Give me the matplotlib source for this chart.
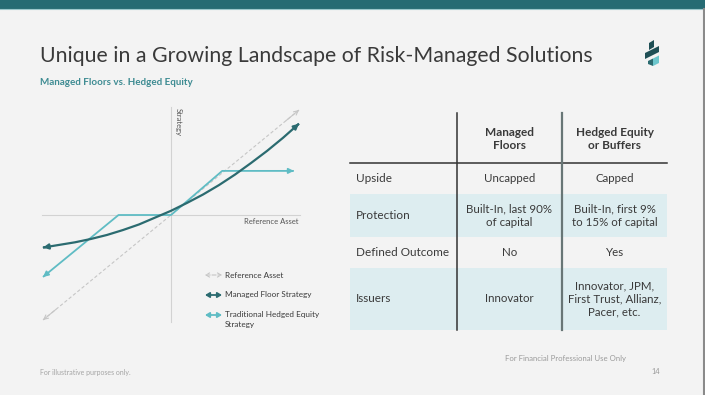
import matplotlib.pyplot as plt
from matplotlib.patches import Rectangle, Polygon

plt.rcParams['font.family'] = ['Lato', 'DejaVu Sans']

# chart data (x = reference asset return, y = strategy return)
ref_x = [-1.0, 1.0]
ref_y = [-1.0, 1.0]
floor_x = [-1.0, -0.875, -0.75, -0.625, -0.5, -0.375, -0.25, -0.125, 0.0,
           0.125, 0.25, 0.375, 0.5, 0.625, 0.75, 0.875, 1.0]
floor_y = [-0.31, -0.285, -0.26, -0.228, -0.19, -0.143, -0.09, -0.025, 0.04,
           0.115, 0.195, 0.285, 0.385, 0.495, 0.61, 0.735, 0.87]
hedged_x = [-1.0, -0.41, 0.0, 0.40, 0.96]
hedged_y = [-0.59, 0.0, 0.0, 0.42, 0.42]

# table data
col_heads = ['Managed\nFloors', 'Hedged Equity\nor Buffers']
row_labels = ['Upside', 'Protection', 'Defined Outcome', 'Issuers']
managed_col = ['Uncapped', 'Built-In, last 90%\nof capital', 'No', 'Innovator']
hedged_col = ['Capped', 'Built-In, first 9%\nto 15% of capital', 'Yes',
              'Innovator, JPM,\nFirst Trust, Allianz,\nPacer, etc.']

BG = '#f3f3f3'
DARK = '#2b6b70'
CYAN = '#5fbcc4'
REF = '#c6c6c6'
TXT = '#3a3a3a'

W, H = 705, 395
fig = plt.figure(figsize=(W / 100, H / 100), dpi=100, facecolor=BG)

# slide layer in pixel coordinates
bg = fig.add_axes([0, 0, 1, 1])
bg.set_xlim(0, W)
bg.set_ylim(H, 0)
bg.axis('off')

bg.add_patch(Rectangle((0, 0), W, 9, color='#266b73', lw=0))
bg.plot([0, W], [9.3, 9.3], color='#9cc7cb', lw=0.8)
bg.plot([703.5, 703.5], [9, H], color='#8a8a8a', lw=1.5)

bg.text(40, 62, 'Unique in a Growing Landscape of Risk-Managed Solutions',
        fontsize=15.3, color=TXT, va='baseline')
bg.text(40, 85, 'Managed Floors vs. Hedged Equity', fontsize=7.1,
        color='#3f8c93', fontweight='bold', va='baseline')

# logo
bg.add_patch(Polygon([(649, 43), (654, 40), (654, 47), (649, 50)], color='#1f4f55', lw=0))
bg.add_patch(Polygon([(645, 53), (659, 46), (659, 52), (645, 59)], color='#1f4f55', lw=0))
bg.add_patch(Polygon([(648, 61), (653, 58.5), (653, 66), (648, 64)], color='#2b6b70', lw=0))
bg.add_patch(Polygon([(653, 58.5), (659, 55.5), (659, 63), (653, 66)], color='#6cc6cc', lw=0))

# table
tx0, tx1 = 350, 667
cx = [457, 562]
row_edges = [163, 194, 237, 268, 330]
for i in (1, 3):
    bg.add_patch(Rectangle((tx0, row_edges[i]), tx1 - tx0,
                           row_edges[i + 1] - row_edges[i], color='#ddedf0', lw=0))
bg.plot([tx0, tx1], [163, 163], color='#333333', lw=1.1)
bg.plot([cx[0], cx[0]], [113, 330], color='#333333', lw=1.1)
bg.plot([cx[1], cx[1]], [113, 330], color='#687676', lw=1.6)

centers = [(cx[0] + cx[1]) / 2, (cx[1] + tx1) / 2]
for c, head in zip(centers, col_heads):
    bg.text(c, 139, head, ha='center', va='center', fontsize=8.5,
            fontweight='bold', color=TXT, linespacing=1.2)
for i, lab in enumerate(row_labels):
    ym = (row_edges[i] + row_edges[i + 1]) / 2
    bg.text(356, ym, lab, ha='left', va='center', fontsize=8.5, color=TXT)
    bg.text(centers[0], ym, managed_col[i], ha='center', va='center',
            fontsize=8.3, color=TXT, linespacing=1.25)
    bg.text(centers[1], ym, hedged_col[i], ha='center', va='center',
            fontsize=8.3, color=TXT, linespacing=1.25)

# legend
leg = [(275, REF, '--', 'Reference Asset'),
       (295, DARK, '-', 'Managed Floor Strategy'),
       (315, CYAN, '-', 'Traditional Hedged Equity\nStrategy')]
for y, col, ls, lab in leg:
    style = '<->' if ls == '--' else '<|-|>'
    bg.annotate('', xy=(222, y), xytext=(205, y),
                arrowprops=dict(arrowstyle=style + ',head_length=0.25,head_width=0.15',
                                color=col, lw=1.3 if ls == '-' else 0.8,
                                linestyle=ls, shrinkA=0, shrinkB=0))
    multi = '\n' in lab
    bg.text(225, 311 if multi else y, lab, fontsize=5.9, color=TXT,
            va='top' if multi else 'center', linespacing=1.5)

# footer
bg.text(505, 358, 'For Financial Professional Use Only', fontsize=5.6,
        color='#9a9a9a', va='center')
bg.text(651, 371, '14', fontsize=5.3, color='#9a9a9a', va='center')
bg.text(40, 373, 'For illustrative purposes only.', fontsize=5,
        color='#a5a5a5', va='center')

# chart
ax = fig.add_axes([43 / W, 1 - 320 / H, 256 / W, 210 / H])
ax.set_xlim(-1, 1)
ax.set_ylim(-1, 1)
ax.axis('off')
ax.patch.set_alpha(0)

ax.plot([-1.01, 1.01], [0, 0], color='#d2d2d2', lw=0.8, clip_on=False)
ax.plot([0, 0], [-1.02, 1.03], color='#d2d2d2', lw=0.8, clip_on=False)


def arrow_line(xs, ys, col, lw, ls='-', head='-|>'):
    ax.plot(xs, ys, color=col, lw=lw, ls=ls, clip_on=False,
            solid_capstyle='butt', solid_joinstyle='round')
    for (x0, y0), (x1, y1) in [((xs[1], ys[1]), (xs[0], ys[0])),
                               ((xs[-2], ys[-2]), (xs[-1], ys[-1]))]:
        ax.annotate('', xy=(x1, y1), xytext=(x1 - (x1 - x0) * 0.05, y1 - (y1 - y0) * 0.05),
                    arrowprops=dict(arrowstyle=head + ',head_length=0.3,head_width=0.15',
                                    color=col, lw=lw, shrinkA=0, shrinkB=0))


arrow_line(ref_x, ref_y, REF, 0.8, ls=(0, (3, 2)), head='->')
arrow_line(hedged_x, hedged_y, CYAN, 1.3)
arrow_line(floor_x, floor_y, DARK, 1.6)

ax.text(1.0, -0.03, 'Reference Asset', ha='right', va='top', fontsize=5.5, color='#555555')
ax.text(0.03, 1.02, 'Strategy', ha='left', va='top', rotation=270,
        fontsize=5.5, color='#555555')

fig.savefig('out.png', dpi=100, facecolor=BG)
